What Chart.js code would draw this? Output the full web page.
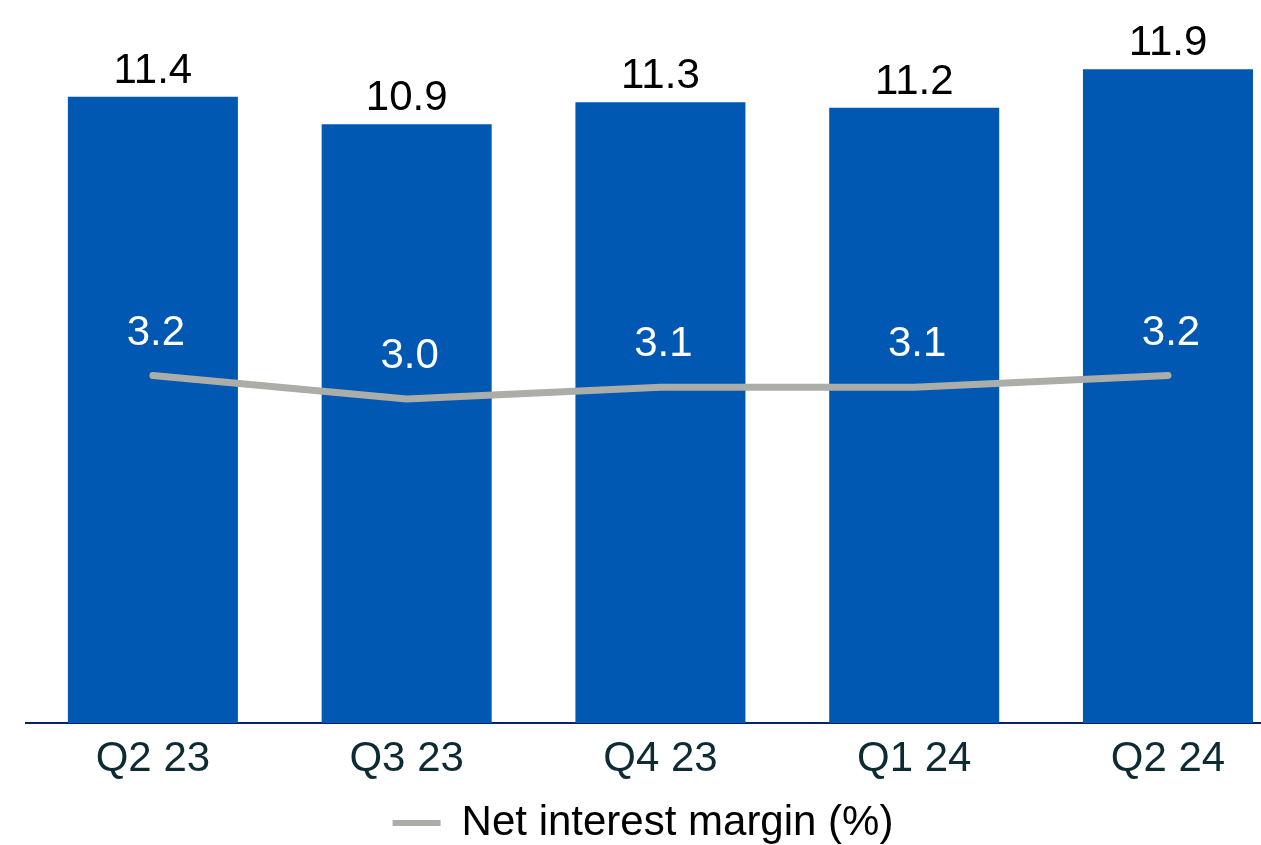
<!DOCTYPE html>
<html>
<head>
<meta charset="utf-8">
<script src="https://cdn.jsdelivr.net/npm/chart.js@4.4.1/dist/chart.umd.min.js"></script>
<style>
  html, body { margin: 0; padding: 0; background: #ffffff; overflow: hidden; }
  #wrap { width: 1261px; height: 854px; position: relative; }
</style>
</head>
<body>
<div id="wrap"><canvas id="chart"></canvas></div>
<script>
// Quarterly figures
const quarters = ['Q2 23', 'Q3 23', 'Q4 23', 'Q1 24', 'Q2 24'];
const barValues = [11.4, 10.9, 11.3, 11.2, 11.9];
const marginValues = [3.2, 3.0, 3.1, 3.1, 3.2];
const marginLabel = 'Net interest margin (%)';

const FONT = "'Liberation Sans', Arial, Helvetica, sans-serif";

// Value labels: black above bars, white above the margin line
const valueLabels = {
  id: 'valueLabels',
  afterDatasetsDraw(chart) {
    const ctx = chart.ctx;
    ctx.save();
    ctx.font = '42px ' + FONT;
    ctx.textAlign = 'center';
    ctx.textBaseline = 'alphabetic';
    chart.data.datasets.forEach((ds, di) => {
      const meta = chart.getDatasetMeta(di);
      meta.data.forEach((el, i) => {
        const v = ds.data[i].y;
        if (ds.type === 'bar') {
          ctx.fillStyle = '#000000';
          ctx.fillText(v.toFixed(1), el.x, el.y - 14);
        } else {
          ctx.fillStyle = '#ffffff';
          ctx.fillText(v.toFixed(1), el.x + 3, el.y - 31);
        }
      });
    });
    ctx.restore();
  }
};

const chart = new Chart(document.getElementById('chart'), {
  data: {
    datasets: [
      {
        type: 'line',
        label: marginLabel,
        data: marginValues.map((v, i) => ({ x: i, y: v })),
        yAxisID: 'y2',
        borderColor: '#abada8',
        backgroundColor: '#abada8',
        borderWidth: 7,
        borderCapStyle: 'round',
        borderJoinStyle: 'round',
        pointRadius: 0,
        tension: 0,
        order: 0
      },
      {
        type: 'bar',
        label: 'Value',
        data: barValues.map((v, i) => ({ x: i, y: v })),
        yAxisID: 'y',
        backgroundColor: '#0058b3',
        borderWidth: 0,
        barPercentage: 0.67,
        categoryPercentage: 1,
        order: 1
      }
    ]
  },
  options: {
    responsive: true,
    maintainAspectRatio: false,
    animation: false,
    layout: { padding: { left: 26, right: 1, top: 0, bottom: 0 } },
    scales: {
      x: {
        type: 'linear',
        offset: false,
        min: -0.5,
        max: 4.3626,
        afterBuildTicks(scale) {
          scale.ticks = quarters.map((_, i) => ({ value: i }));
        },
        afterFit(scale) {
          scale.height = 73;
        },
        ticks: {
          callback: (v) => quarters[v],
          font: { family: FONT, size: 42 },
          color: '#0d2b33',
          padding: 11,
          maxRotation: 0,
          autoSkip: false
        },
        grid: { display: false, drawTicks: false },
        border: { display: true, color: '#0a2463', width: 2 }
      },
      y: {
        display: false,
        min: 0,
        max: 13.16
      },
      y2: {
        display: false,
        min: 0.2426,
        max: 6.396
      }
    },
    plugins: {
      legend: {
        position: 'bottom',
        labels: {
          font: { family: FONT, size: 42 },
          color: '#000000',
          boxWidth: 48,
          boxHeight: 6,
          padding: 6,
          generateLabels(chart) {
            return [{
              text: marginLabel,
              fillStyle: '#abada8',
              strokeStyle: '#abada8',
              lineWidth: 0,
              fontColor: '#000000',
              datasetIndex: 0,
              hidden: false
            }];
          }
        }
      },
      tooltip: { enabled: false }
    }
  },
  plugins: [valueLabels]
});
</script>
</body>
</html>
